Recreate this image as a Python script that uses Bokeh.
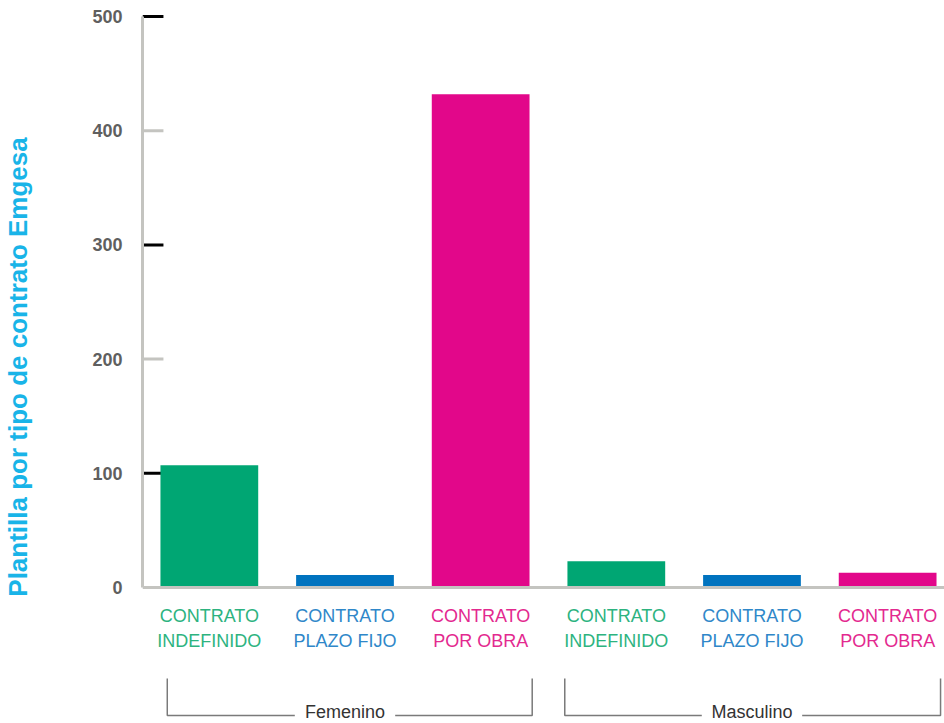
from bokeh.plotting import figure
from bokeh.models import Range1d, FixedTicker, Span, ColumnDataSource
from bokeh.core.properties import value
from bokeh.embed import file_html
from bokeh.resources import INLINE

# ---- data ----
groups = ["Femenino", "Masculino"]
contract_types = ["CONTRATO\nINDEFINIDO", "CONTRATO\nPLAZO FIJO", "CONTRATO\nPOR OBRA"]
femenino = [107, 11, 432]
masculino = [23, 11, 13]
y_ticks = [0, 100, 200, 300, 400, 500]
y_title = "Plantilla por tipo de contrato Emgesa"

bar_colors = ["#00a673", "#0073bf", "#e2078a"]
label_colors = ["#2db37f", "#2f87c9", "#e3298f"]

# ---- build table ----
xs, tops, fills, labs, lcols = [], [], [], [], []
values = [femenino, masculino]
for gi, g in enumerate(groups):
    for ci, c in enumerate(contract_types):
        xs.append(gi * len(contract_types) + ci)
        tops.append(values[gi][ci])
        fills.append(bar_colors[ci])
        labs.append(c)
        lcols.append(label_colors[ci])
src = ColumnDataSource(dict(x=xs, top=tops, fill=fills, lab=labs, lcol=lcols))

px_per_unit = 1.142
x_start = -67 / 136
x_end = 737 / 136
p = figure(width=944, height=723, output_backend="svg", toolbar_location=None,
           x_range=Range1d(x_start, x_end),
           y_range=Range1d(-136 / px_per_unit, 577 / px_per_unit),
           min_border_left=140, min_border_right=0, min_border_top=10, min_border_bottom=0)
p.outline_line_color = None
p.grid.visible = False
p.xaxis.visible = False
p.background_fill_color = "white"
p.border_fill_color = "white"

ya = p.yaxis[0]
ya.ticker = FixedTicker(ticks=y_ticks)
ya.bounds = (0, 500)
ya.axis_line_color = "#c4c4c0"
ya.axis_line_width = 3
ya.major_tick_line_color = None
ya.minor_tick_line_color = None
ya.major_label_text_font = "Liberation Sans"
ya.major_label_text_font_style = "bold"
ya.major_label_text_font_size = "18px"
ya.major_label_text_color = "#5f5f5f"
ya.major_label_standoff = 14
ya.axis_label = y_title
ya.axis_label_text_font = "Liberation Sans"
ya.axis_label_text_font_style = "bold"
ya.axis_label_text_font_size = "26px"
ya.axis_label_text_color = "#19b4e8"
ya.axis_label_standoff = 56

# baseline
p.add_layout(Span(location=0, dimension="width", line_color="#c4c4c0", line_width=3))

# tick marks, alternating black / grey
tk = [t for t in y_ticks if t > 0]
tk_colors = ["black" if (t // 100) % 2 == 1 else "#c4c4c0" for t in tk]
p.segment(x0=[x_start] * len(tk), y0=tk, x1=[x_start + 21 / 136] * len(tk), y1=tk,
          line_color=tk_colors, line_width=3)

# bars
p.vbar(x="x", top="top", bottom=0, width=98 / 136, fill_color="fill", line_color=None, source=src)

# category labels
p.text(x="x", y=0, text="lab", text_color="lcol", source=src,
       text_font=value("Liberation Sans"), text_font_size="18px",
       text_align="center", text_baseline="top", y_offset=18, text_line_height=1.25)

# group brackets
n = len(contract_types)
pad_left = [0.31, 0.38]
pad_right = [0.38, 0.39]
half_gap = 0.37
y_top = -91 / px_per_unit
y_bot = -128 / px_per_unit
y_lab = -124 / px_per_unit
for gi, g in enumerate(groups):
    left = gi * n - pad_left[gi]
    right = gi * n + n - 1 + pad_right[gi]
    mid = (gi * n + gi * n + n - 1) / 2
    p.line(x=[left, left, mid - half_gap], y=[y_top, y_bot, y_bot],
           line_color="#7a7a7a", line_width=1.5)
    p.line(x=[mid + half_gap, right, right], y=[y_bot, y_bot, y_top],
           line_color="#7a7a7a", line_width=1.5)
    p.text(x=[mid], y=[y_lab], text=[g],
           text_font=value("Liberation Sans"), text_font_size="18px", text_color="#333333",
           text_align="center", text_baseline="middle")

open("out.html", "w").write(file_html(p, INLINE))
